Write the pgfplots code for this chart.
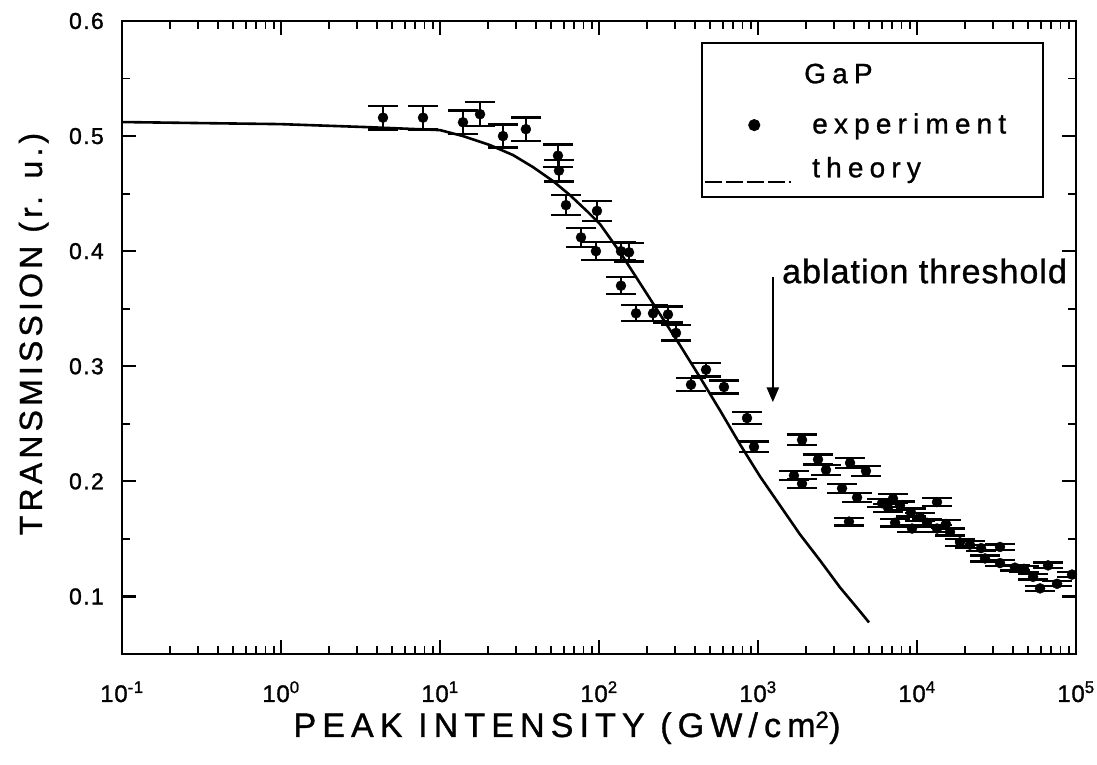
\documentclass[border=0pt]{standalone}
\usepackage{fontspec}
\setmainfont{Liberation Sans}
\newfontfamily\xtickfont[LetterSpace=3, FakeBold=1.2]{Liberation Sans}
\newfontfamily\ytickfont[LetterSpace=6, FakeBold=1.2]{Liberation Sans}
\newfontfamily\xlabfont[LetterSpace=18, FakeBold=1.0]{Liberation Sans}
\newfontfamily\ylabfont[LetterSpace=13, FakeBold=1.0]{Liberation Sans}
\newfontfamily\legfont[LetterSpace=22, FakeBold=1.0]{Liberation Sans}
\newfontfamily\annfont[LetterSpace=3, FakeBold=1.0]{Liberation Sans}
\usepackage{pgfplots}
\usepackage{pgfplotstable}
\pgfplotsset{compat=1.18}
\usetikzlibrary{arrows.meta}

% measured transmission of GaP vs. peak intensity (GW/cm^2)
\pgfplotstableread{
x      y
4.38   0.516
7.82   0.516
13.95  0.512
17.86  0.519
24.9   0.500
34.7   0.506
55.2   0.483
56.0   0.470
62.0   0.440
97.1   0.435
77.1   0.412
95.7   0.400
137.5  0.400
154.5  0.399
137.5  0.370
171    0.346
218.6  0.346
271.6  0.345
305    0.329
471    0.297
379    0.284
611    0.282
853    0.255
944    0.230
1892   0.236
2384   0.219
2677   0.210
1683   0.205
1892   0.198
3793   0.216
4777   0.209
3377   0.194
4198   0.186
3735   0.165
6026   0.181
7063   0.185
6573   0.177
7816   0.179
9162   0.173
13360  0.182
7278   0.164
9306   0.159
10440  0.169
11560  0.164
13360  0.159
15210  0.163
16130  0.156
18640  0.147
21530  0.145
25290  0.142
33270  0.143
26780  0.133
33270  0.129
41300  0.125
47100  0.124
53700  0.117
59400  0.107
66700  0.127
76000  0.111
94400  0.119
}\experiment

% model transmission curve
\pgfplotstableread{
x      y
0.1    0.5122
0.31   0.5113
0.986  0.5104
3.47   0.5078
10.0   0.5052
13.96  0.5000
20.6   0.4922
28.8   0.4835
38.5   0.4730
51.4   0.4609
65.7   0.4487
84.0   0.4348
101.5  0.4235
135.6  0.3991
181.1  0.3722
241.8  0.3452
323.1  0.3183
431.7  0.2904
576.8  0.2617
770.6  0.2322
1029.4 0.2043
1375   0.1791
1837   0.1539
2455   0.1313
3280   0.1078
4381   0.0870
4992   0.0774
}\theory

\begin{document}
\begin{tikzpicture}
\begin{axis}[
  name=ax,
  scale only axis,
  width=954bp, height=633bp,
  xmode=log,
  xmin=0.1, xmax=1e5,
  ymin=0.05, ymax=0.6,
  xtick={0.1,1,10,100,1000,10000,100000},
  xticklabels={10\textsuperscript{-1},10\textsuperscript{0},10\textsuperscript{1},10\textsuperscript{2},10\textsuperscript{3},10\textsuperscript{4},10\textsuperscript{5}},
  minor xtick={0.2,0.3,0.4,0.5,0.6,0.7,0.8,0.9,
               2,3,4,5,6,7,8,9,
               20,30,40,50,60,70,80,90,
               200,300,400,500,600,700,800,900,
               2000,3000,4000,5000,6000,7000,8000,9000,
               20000,30000,40000,50000,60000,70000,80000,90000},
  ytick={0.1,0.2,0.3,0.4,0.5,0.6},
  yticklabels={0.1,0.2,0.3,0.4,0.5,0.6},
  minor ytick={0.15,0.25,0.35,0.45,0.55},
  tick align=inside,
  tick pos=both,
  xticklabel pos=lower,
  yticklabel pos=left,
  major tick length=14bp,
  minor tick length=8bp,
  major tick style={line width=2.2bp, black},
  minor tick style={line width=1.8bp, black},
  axis line style={line width=2.6bp},
  xticklabel style={font=\xtickfont\fontsize{24bp}{29bp}\selectfont, anchor=base, inner sep=0pt, yshift=-48bp},
  yticklabel style={font=\ytickfont\fontsize{23bp}{28bp}\selectfont, anchor=east, inner sep=0pt, xshift=-18bp},
  xlabel={PEAK INTENSITY (GW/cm\textsuperscript{2})},
  xlabel style={font=\xlabfont\fontsize{34bp}{40bp}\selectfont, at={(axis description cs:0.4665,0)}, anchor=base, yshift=-83bp, inner sep=0pt},
  ylabel={TRANSMISSION (r. u.)},
  ylabel style={font=\ylabfont\fontsize{32bp}{38bp}\selectfont, at={(axis description cs:-0.0839,0.5055)}, anchor=base, inner sep=0pt},
  legend style={
    at={(axis description cs:0.607,0.9668)}, anchor=north west,
    draw=black, line width=2.4bp,
    font=\legfont\fontsize{28bp}{33bp}\selectfont,
    inner xsep=2bp, inner ysep=14bp,
    row sep=22bp, column sep=20bp,
    nodes={inner sep=0pt},
  },
  legend cell align=left,
]

% title row: an invisible spacer stands in for the legend image
\addlegendimage{draw=none, legend image code/.code={\path[draw=none, fill=none] (0bp,17bp) -- (0bp,-17bp);}}
\addlegendentry{\hspace*{-8bp}GaP}
\addlegendimage{legend image code/.code={\fill[black] (49bp,-1bp) circle (4.8bp);}}
\addlegendentry{\makebox[229bp][l]{experiment}}
\addlegendimage{legend image code/.code={\draw[black, line width=2bp, dash pattern=on 17bp off 4bp] (0bp,-14bp) -- (86bp,-14bp);}}
\addlegendentry{theory}

% data with 2% error bars
\addplot[forget plot, black, only marks, mark=*, mark size=5bp,
  error bars/.cd, y dir=both, y fixed relative=0.02,
  error bar style={line width=2.2bp, black},
  error mark options={rotate=90, line width=2.2bp, mark size=15bp, black}]
  table[x=x, y=y] {\experiment};

% theory curve
\addplot[forget plot, black, line width=2.6bp, no marks] table[x=x, y=y] {\theory};

% ablation threshold marker
\draw[black, line width=2.6bp, -{Triangle[length=15bp, width=12bp]}]
  (axis cs:1240,0.3775) -- (axis cs:1240,0.2687);
\node[anchor=base west, inner sep=0pt, font=\annfont\fontsize{34bp}{40bp}\selectfont]
  at (axis cs:1416,0.3722) {ablation threshold};
\end{axis}
\pgfresetboundingbox
\path[use as bounding box] ([shift={(-122bp,-111bp)}]ax.south west) rectangle ([shift={(21bp,21bp)}]ax.north east);
\end{tikzpicture}
\end{document}
